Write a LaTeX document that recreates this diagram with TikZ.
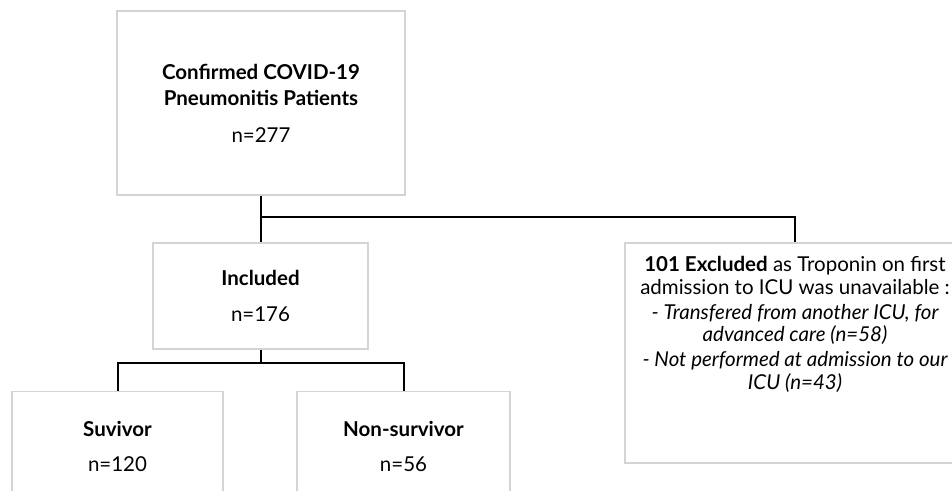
\documentclass[tikz,border=0pt]{standalone}
\usepackage{fontspec}
\setmainfont{Lato}
\definecolor{boxgray}{HTML}{D4D4D4}
\tikzset{
  box/.style={draw=boxgray, line width=1.2pt, rectangle, inner sep=0pt, align=center},
  conn/.style={draw=black, line width=2pt},
  big/.style={font=\fontsize{20.5}{26}\selectfont},
  exctext/.style={font=\fontsize{20.5}{22.5}\selectfont, align=center, inner sep=0pt},
}
\begin{document}
\begin{tikzpicture}[x=1pt,y=-1pt]
\clip (0,0) rectangle (952,490);
\fill[white] (0,0) rectangle (952,490);
% boxes
\node[box, big, minimum width=288pt, minimum height=184pt] (top) at (261,103)
  {\textbf{Confirmed COVID-19}\\\textbf{Pneumonitis Patients}\\[11pt]n=277};
\node[box, big, minimum width=215pt, minimum height=106pt] (inc) at (260.5,296)
  {\textbf{Included}\\[10pt]n=176};
\node[box, minimum width=340pt, minimum height=220pt] (exc) at (795,353) {};
\node[exctext, anchor=north] (exct) at ([yshift=-14pt]exc.north)
  {\textbf{101 Excluded} as Troponin on first\\
   admission to ICU was unavailable :\\[2.5pt]
   \itshape - Transfered from another ICU, for\\
   \itshape advanced care (n=58)\\[2.5pt]
   \itshape - Not performed at admission to our\\
   \itshape ICU (n=43)};
\node[box, big, minimum width=211pt, minimum height=109pt] (sur) at (117.5,446)
  {\textbf{Suvivor}\\[9pt]n=120};
\node[box, big, minimum width=213pt, minimum height=109pt] (non) at (403.5,446)
  {\textbf{Non-survivor}\\[9pt]n=56};
% connectors
\coordinate (j1) at (261,217);
\coordinate (j2) at (261,363);
\draw[conn] (top.south) -- (top.south |- inc.north);
\draw[conn] (top.south |- j1) -| (exc.north);
\draw[conn] (inc.south) -- (inc.south |- j2);
\draw[conn] (sur.north) -- (sur.north |- j2) -- (non.north |- j2) -- (non.north);
\end{tikzpicture}
\end{document}
